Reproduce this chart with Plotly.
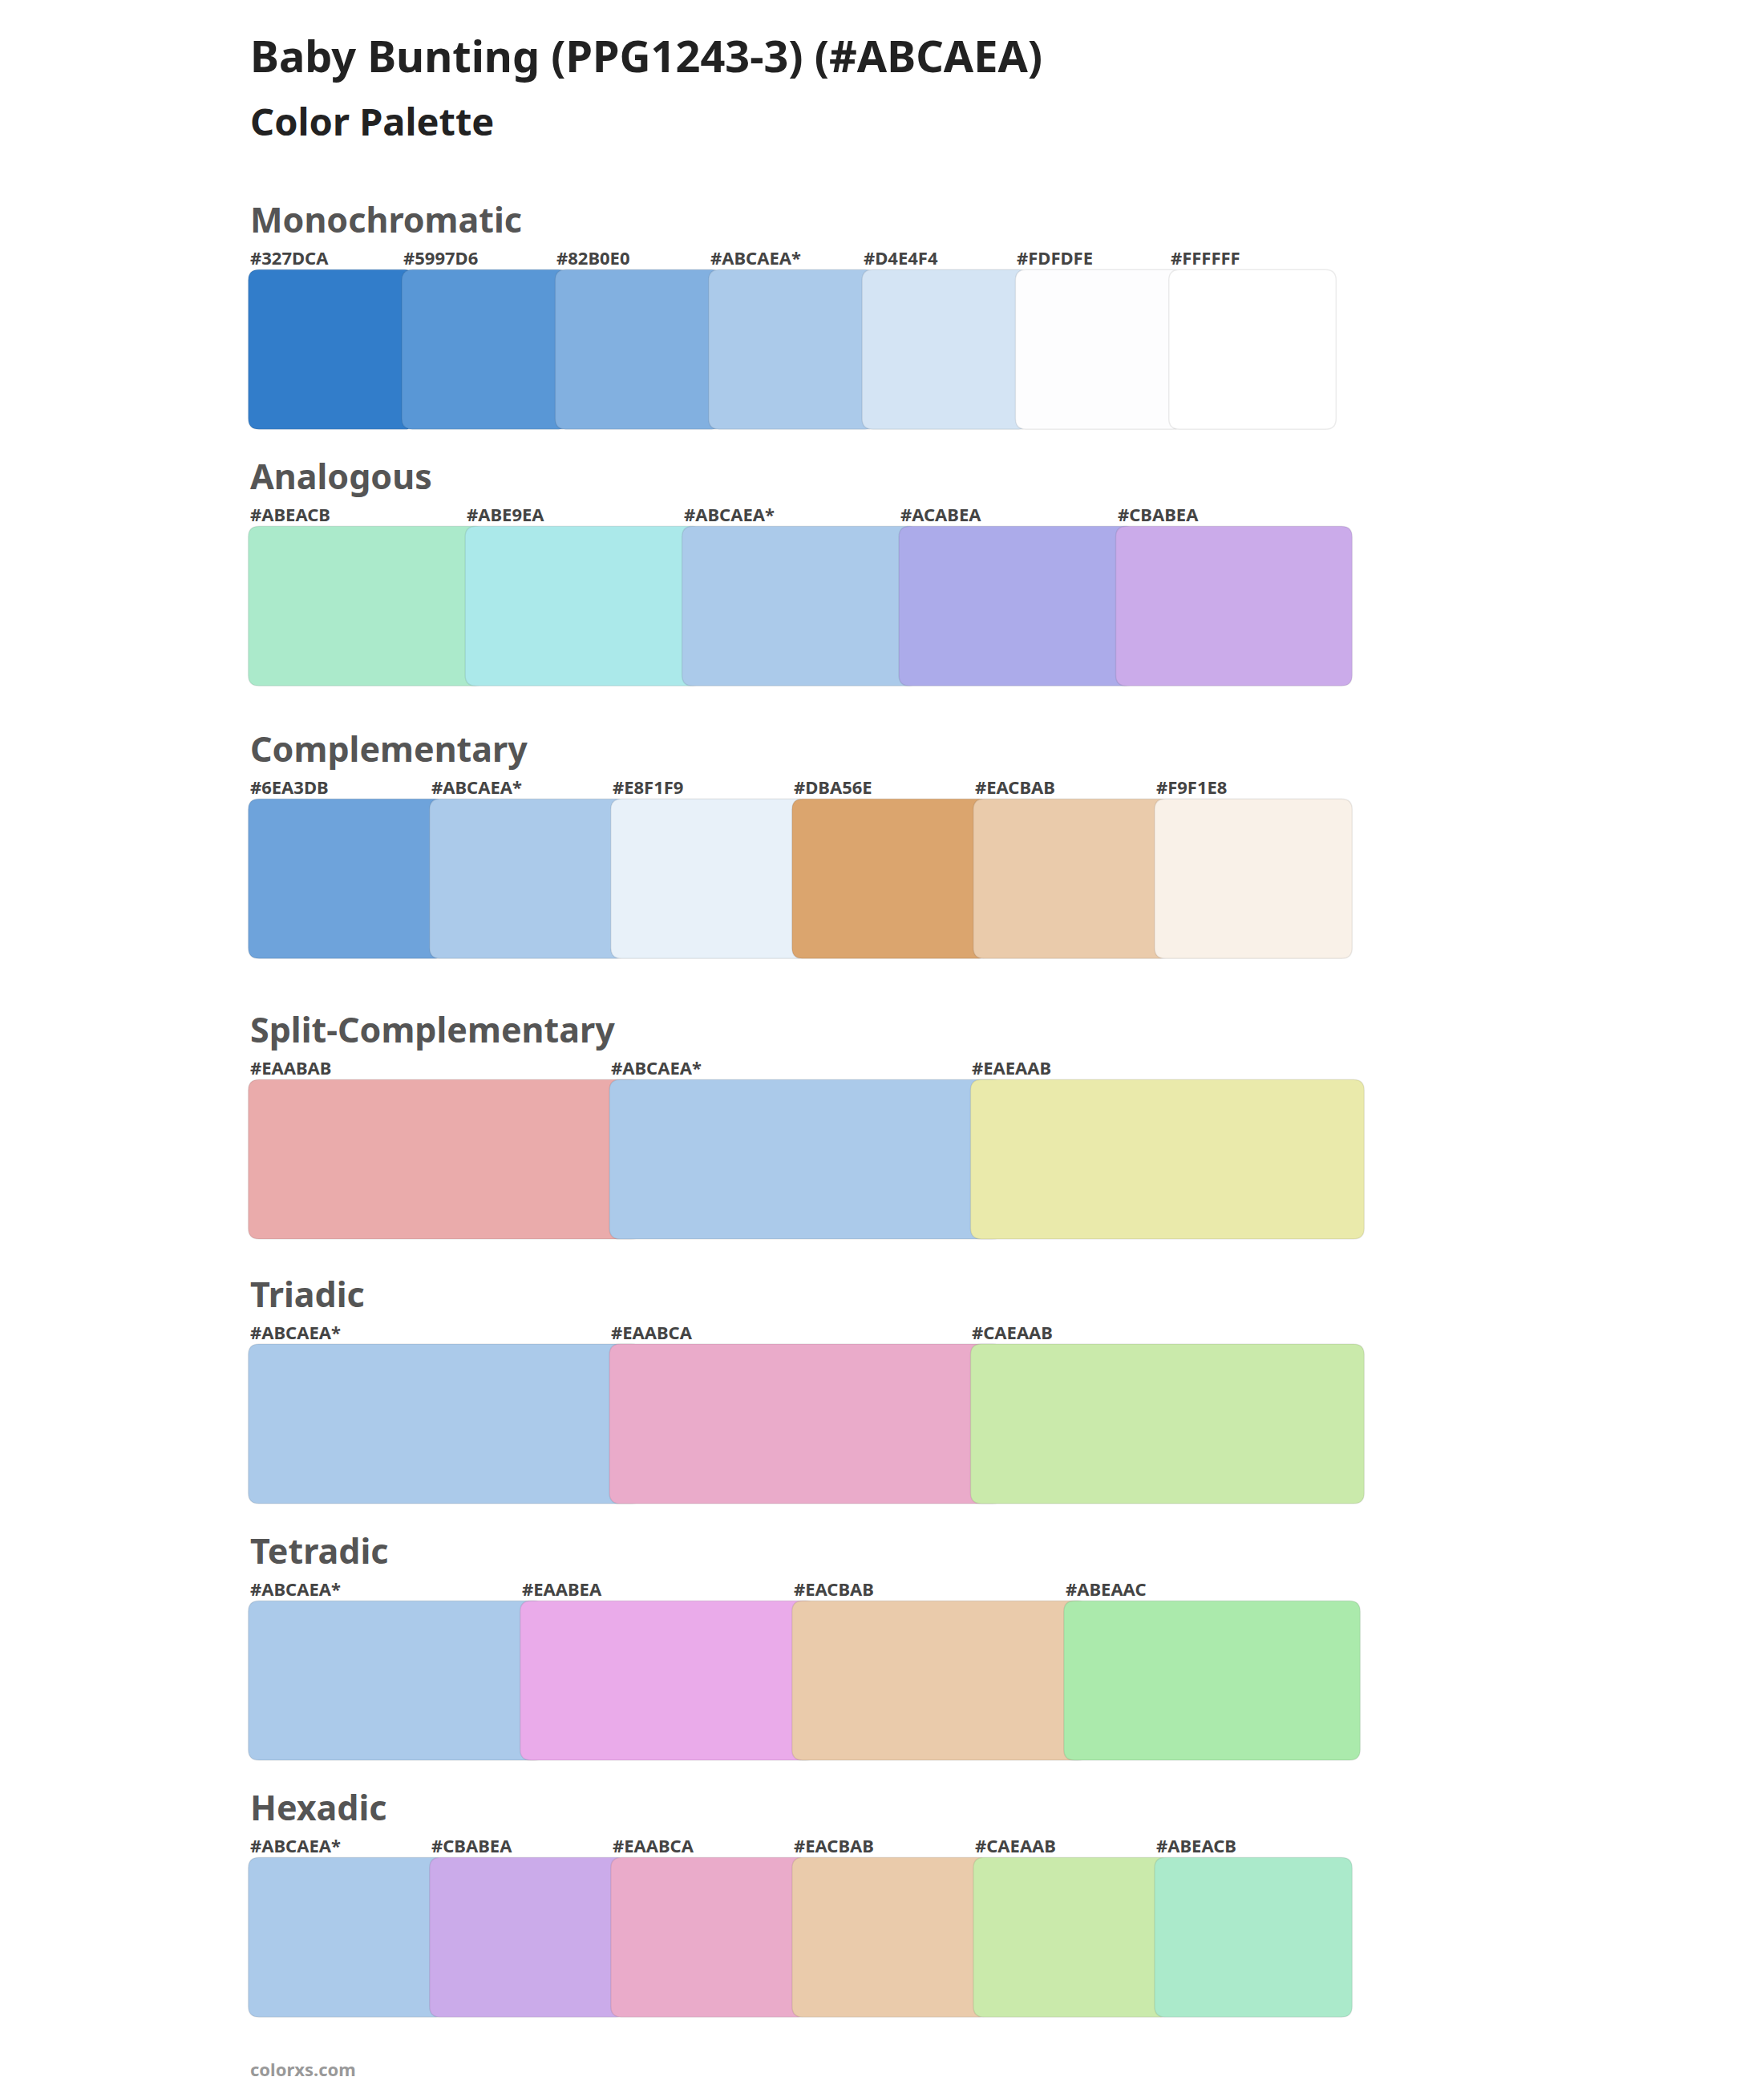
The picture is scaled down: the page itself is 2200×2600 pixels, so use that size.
import plotly.graph_objects as go

# palette data
palette_names = ["Monochromatic", "Analogous", "Complementary", "Split-Complementary",
                 "Triadic", "Tetradic", "Hexadic"]
mono = ["#327DCA", "#5997D6", "#82B0E0", "#ABCAEA", "#D4E4F4", "#FDFDFE", "#FFFFFF"]
analogous = ["#ABEACB", "#ABE9EA", "#ABCAEA", "#ACABEA", "#CBABEA"]
complementary = ["#6EA3DB", "#ABCAEA", "#E8F1F9", "#DBA56E", "#EACBAB", "#F9F1E8"]
split_comp = ["#EAABAB", "#ABCAEA", "#EAEAAB"]
triadic = ["#ABCAEA", "#EAABCA", "#CAEAAB"]
tetradic = ["#ABCAEA", "#EAABEA", "#EACBAB", "#ABEAAC"]
hexadic = ["#ABCAEA", "#CBABEA", "#EAABCA", "#EACBAB", "#CAEAAB", "#ABEACB"]
palettes = [mono, analogous, complementary, split_comp, triadic, tetradic, hexadic]
base_color = "#ABCAEA"

# layout (reference coordinates, 1320 x 1568 canvas)
title_y = [160, 353, 558, 769, 968, 1161, 1354]
right_edge = [995, 1007, 1007, 1016, 1016, 1013, 1007]
left = 181
sw_h = 120
S = 2200 / 1320


def rounded(x0, y0, x1, y1, r=8):
    return (f"M{x0+r},{y0} L{x1-r},{y0} Q{x1},{y0} {x1},{y0+r} L{x1},{y1-r} "
            f"Q{x1},{y1} {x1-r},{y1} L{x0+r},{y1} Q{x0},{y1} {x0},{y1-r} "
            f"L{x0},{y0+r} Q{x0},{y0} {x0+r},{y0} Z")


fig = go.Figure()
fig.add_trace(go.Scatter(x=[0, 1320], y=[0, 1568], mode="markers",
                         marker=dict(opacity=0), hoverinfo="skip", showlegend=False))

shapes, ann = [], []
ff = "Noto Sans"
ann.append(dict(x=left, y=37, text="<b>Baby Bunting (PPG1243-3) (#ABCAEA)</b>",
                font=dict(size=54, color="#222", family=ff)))
ann.append(dict(x=left, y=86, text="<b>Color Palette</b>",
                font=dict(size=47, color="#222", family=ff)))
ann.append(dict(x=left, y=1551, text="<b>colorxs.com</b>",
                font=dict(size=22, color="#999", family=ff)))

for name, cols, ty, re in zip(palette_names, palettes, title_y, right_edge):
    n = len(cols)
    total = re - left
    w = total / (n - 0.09 * (n - 1) / n * n / (n)) if False else None
    # step chosen so swatches overlap by ~8% of their width
    step = total / (n - 1 + 1.09) if n > 1 else total
    w = total - step * (n - 1)
    ann.append(dict(x=left, y=ty, text=f"<b>{name}</b>",
                    font=dict(size=43, color="#555", family=ff)))
    y0 = ty + 38
    for i, c in enumerate(cols):
        x0 = left + i * step
        ann.append(dict(x=x0, y=ty + 29, text=f"<b>{c}{'*' if c == base_color else ''}</b>",
                        font=dict(size=22, color="#444", family=ff)))
        shapes.append(dict(type="path", xref="x", yref="y",
                           path=rounded(x0, y0, x0 + w, y0 + sw_h),
                           fillcolor=c, line=dict(color="rgba(0,0,0,0.08)", width=1.5)))

for a in ann:
    a.update(xref="x", yref="y", xanchor="left", yanchor="middle", showarrow=False)

fig.update_layout(width=2200, height=2600, margin=dict(l=0, r=0, t=0, b=0),
                  plot_bgcolor="white", paper_bgcolor="white",
                  shapes=shapes, annotations=ann)
fig.update_xaxes(range=[0, 1320], visible=False)
fig.update_yaxes(range=[1568, 0], visible=False)
fig.write_html("out.html")
